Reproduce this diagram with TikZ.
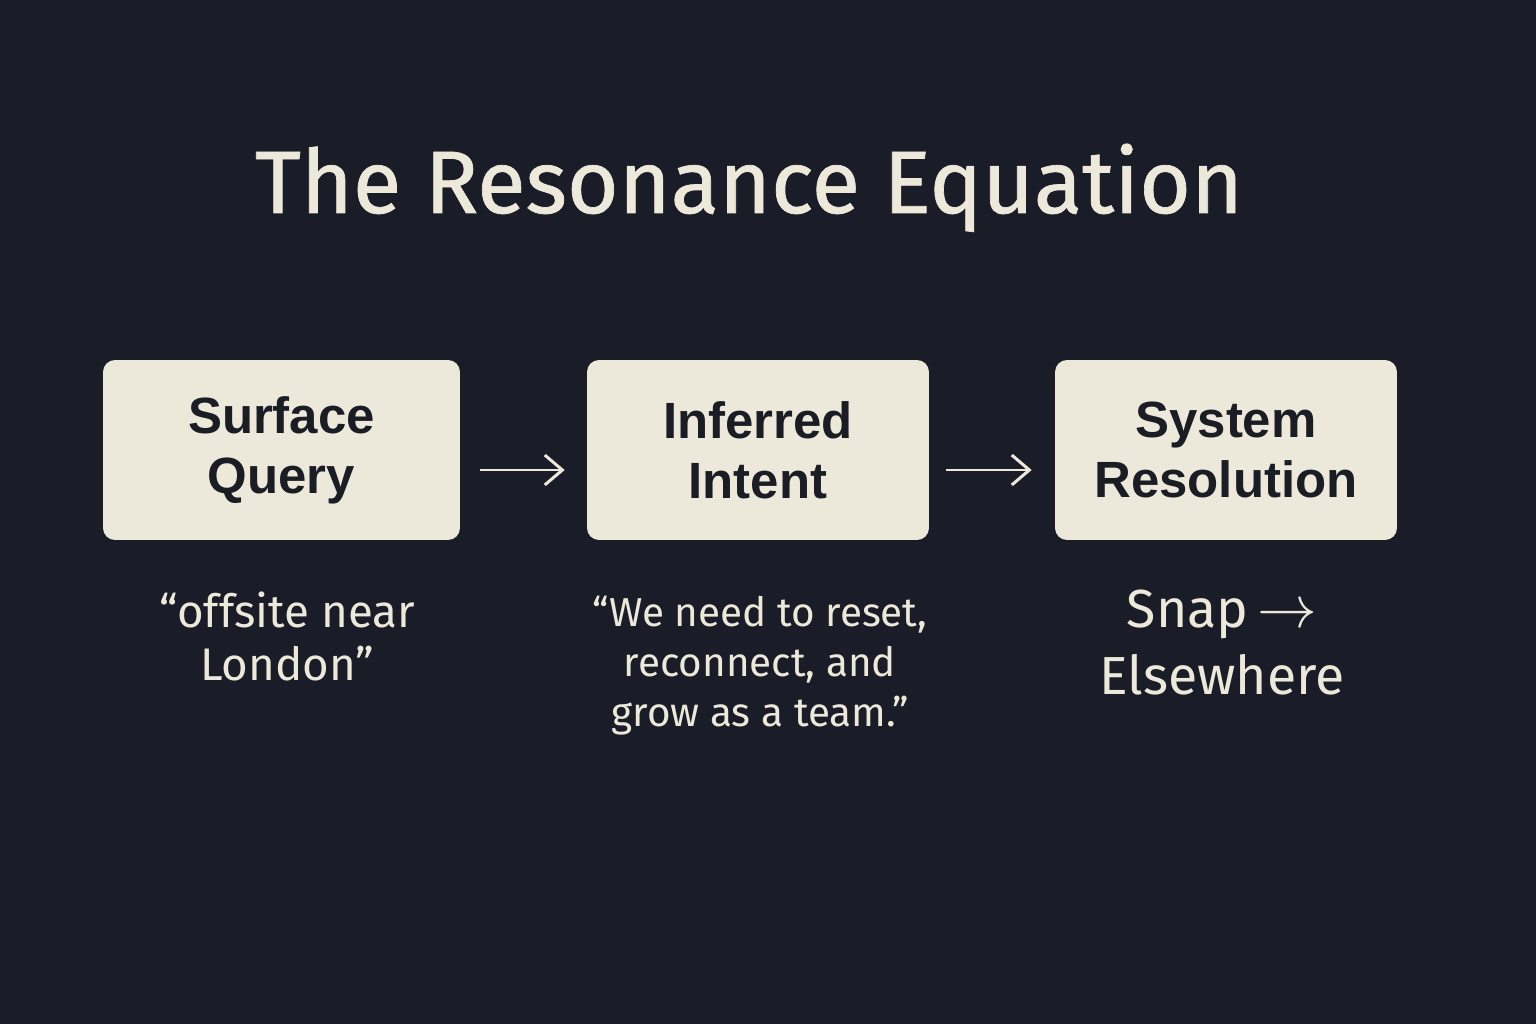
\documentclass[tikz,border=0pt]{standalone}
\usepackage{fix-cm}
\usepackage{fontspec}
\setmainfont{Fira Sans}
\newfontfamily\boxfont{Liberation Sans}
\newfontfamily\titlefont{Fira Sans}[FakeBold=0.8]
\usetikzlibrary{arrows.meta}

\definecolor{bgnavy}{HTML}{1A1D28}
\definecolor{cream}{HTML}{ECE8DA}
\definecolor{inkdark}{HTML}{1B1D24}

\begin{document}
\begin{tikzpicture}[
      x=0.02cm, y=-0.02cm,
      stage/.style={rectangle, rounded corners=0.24cm, fill=cream,
        minimum width=7cm, minimum height=3.6cm, align=center,
        text=inkdark, font=\boxfont\bfseries\fontsize{29}{34}\selectfont},
      note/.style={anchor=north, align=center, inner sep=0pt, text=cream,
        font=\fontsize{26}{30}\selectfont},
      flow/.style={draw=cream, line width=1.7pt,
        -{Straight Barb[length=10pt, width=17pt, line width=1.7pt]}},
    ]
    \fill[bgnavy] (0,0) rectangle (1536,1024);

    \node[anchor=base, text=cream, font=\titlefont\fontsize{50.5}{56}\selectfont]
      (title) at (749,213) {The Resonance Equation};

    \node[stage, minimum width=7.14cm] (query) at (281.5,450) {Surface\\Query};
    \node[stage, minimum width=6.84cm] (intent) at (758,450) {Inferred\\Intent};
    \node[stage, minimum width=6.84cm] (resolve) at (1226,450) {System\\Resolution};

    \draw[flow, shorten <=0.4cm, shorten >=0.44cm] (query.east |- 0,470) -- (intent.west |- 0,470);
    \draw[flow, shorten <=0.34cm, shorten >=0.46cm] (intent.east |- 0,470) -- (resolve.west |- 0,470);

    \node[note] (querynote) at (287,592) {“offsite near\\London”};
    \node[note, font=\fontsize{23}{28.5}\selectfont] (intentnote) at (760,596)
      {“We need to reset,\\reconnect, and\\grow as a team.”};
    \node[note, font=\fontsize{30.5}{38}\selectfont] (resolvenote) at (1222,590)
      {Snap\,{\fontsize{34}{38}\selectfont$\rightarrow$}\\Elsewhere};
\end{tikzpicture}
\end{document}
